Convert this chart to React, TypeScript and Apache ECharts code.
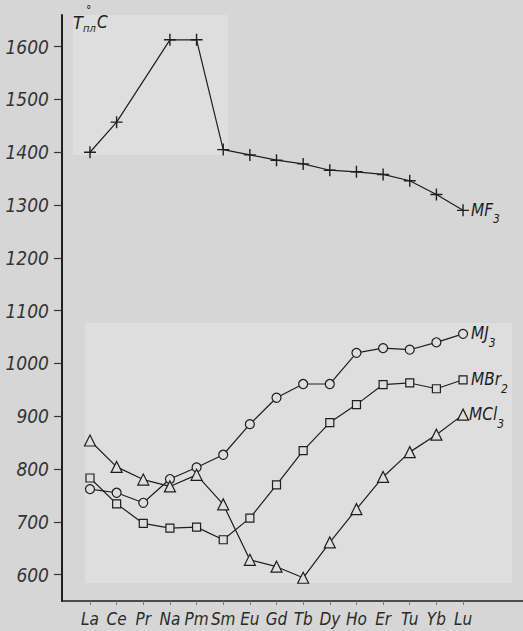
import React, { useEffect, useRef } from "react";
import * as echarts from "echarts";

const categories = ["La", "Ce", "Pr", "Na", "Pm", "Sm", "Eu", "Gd", "Tb", "Dy", "Ho", "Er", "Tu", "Yb", "Lu"];
const mf3 = [1400, 1457, null, 1613, 1613, 1405, 1395, 1385, 1378, 1366, 1363, 1358, 1346, 1320, 1290];
const mj3 = [762, 755, 736, 781, 803, 827, 885, 935, 961, 961, 1020, 1029, 1026, 1040, 1056];
const mbr2 = [783, 734, 697, 688, 690, 666, 707, 770, 835, 888, 922, 960, 963, 952, 969];
const mcl3 = [854, 804, 780, 767, 789, 733, 628, 615, 594, 661, 724, 785, 832, 865, 903];
const yTicks = [600, 700, 800, 900, 1000, 1100, 1200, 1300, 1400, 1500, 1600];

const FONT = "'DejaVu Sans Condensed', 'Liberation Sans Narrow', 'DejaVu Sans', sans-serif";
const INK = "#1e1e1e";
const PAPER = "#dedede";

const plusPath = "path://M-0.7,-6H0.7V-0.7H6V0.7H0.7V6H-0.7V0.7H-6V-0.7H-0.7Z";

function toPairs(arr: (number | null)[]) {
  return arr.map((v, i) => [i, v]);
}

const richLabel = {
  m: { fontFamily: FONT, fontStyle: "italic", fontSize: 17, color: INK, lineHeight: 18, verticalAlign: "top" },
  s: { fontFamily: FONT, fontStyle: "italic", fontSize: 12, color: INK, lineHeight: 12, padding: [12, 0, 0, 0], verticalAlign: "top" },
};

export default function App() {
  const ref = useRef<HTMLDivElement>(null);
  useEffect(() => {
    if (!ref.current) return;
    const chart = echarts.init(ref.current, undefined, { renderer: "svg" });
    const base = {
      type: "line",
      lineStyle: { color: INK, width: 1.2 },
      itemStyle: { color: PAPER, borderColor: INK, borderWidth: 1.2 },
      showAllSymbol: true,
      z: 5,
    };
    const option = {
      animation: false,
      backgroundColor: "#d6d6d6",
      grid: { left: 62, right: 0, top: 15, bottom: 30 },
      xAxis: {
        type: "value",
        min: -1.05,
        max: 16.25,
        splitLine: { show: false },
        axisLine: { show: true, onZero: false, lineStyle: { color: INK, width: 1.5 } },
        axisTick: { show: true, customValues: categories.map((_, i) => i), length: 4, lineStyle: { color: "#777", width: 1 } },
        axisLabel: {
          customValues: categories.map((_, i) => i),
          formatter: (v: number) => categories[Math.round(v)] ?? "",
          fontFamily: FONT,
          fontStyle: "italic",
          fontSize: 17,
          color: "#2a2a2a",
          margin: 9,
        },
      },
      yAxis: {
        type: "value",
        min: 550,
        max: 1660,
        splitLine: { show: false },
        axisLine: { show: true, onZero: false, lineStyle: { color: INK, width: 2 } },
        axisTick: { show: true, customValues: yTicks, length: 8, lineStyle: { color: "#333", width: 1.2 } },
        axisLabel: {
          customValues: yTicks,
          formatter: (v: number) => String(v),
          fontFamily: FONT,
          fontStyle: "italic",
          fontSize: 19,
          color: "#333",
          margin: 13,
        },
      },
      graphic: [
        { type: "rect", z: -1, shape: { x: 73, y: 15, width: 155, height: 140 }, style: { fill: PAPER } },
        { type: "rect", z: -1, shape: { x: 85, y: 323, width: 427, height: 260 }, style: { fill: PAPER } },
        { type: "text", z: 100, x: 73, y: 13, style: { text: "T", font: `italic 18px ${FONT}`, fill: INK } },
        { type: "text", z: 100, x: 83, y: 23, style: { text: "пл", font: `italic 11px ${FONT}`, fill: INK } },
        { type: "text", z: 100, x: 86, y: 4, style: { text: "°", font: `12px ${FONT}`, fill: INK } },
        { type: "text", z: 100, x: 97, y: 13, style: { text: "C", font: `italic 17px ${FONT}`, fill: INK } },
      ],
      series: [
        {
          ...base,
          name: "MF3",
          data: toPairs(mf3),
          connectNulls: true,
          symbol: plusPath,
          symbolSize: 12,
          itemStyle: { color: INK },
          endLabel: { show: true, distance: 8, formatter: "{m|MF}{s|3}", rich: richLabel },
        },
        {
          ...base,
          name: "MJ3",
          data: toPairs(mj3),
          symbol: "circle",
          symbolSize: 9,
          endLabel: { show: true, distance: 8, formatter: "{m|MJ}{s|3}", rich: richLabel },
        },
        {
          ...base,
          name: "MBr2",
          data: toPairs(mbr2),
          symbol: "rect",
          symbolSize: 8,
          endLabel: { show: true, distance: 8, formatter: "{m|MBr}{s|2}", rich: richLabel },
        },
        {
          ...base,
          name: "MCl3",
          data: toPairs(mcl3),
          symbol: "triangle",
          symbolSize: 11,
          endLabel: { show: true, distance: 6, formatter: "{m|MCl}{s|3}", rich: richLabel },
        },
      ],
    };
    chart.setOption(option as any);
    return () => chart.dispose();
  }, []);
  return <div ref={ref} style={{ position: "fixed", left: 0, top: 0, width: 523, height: 631 }} />;
}
